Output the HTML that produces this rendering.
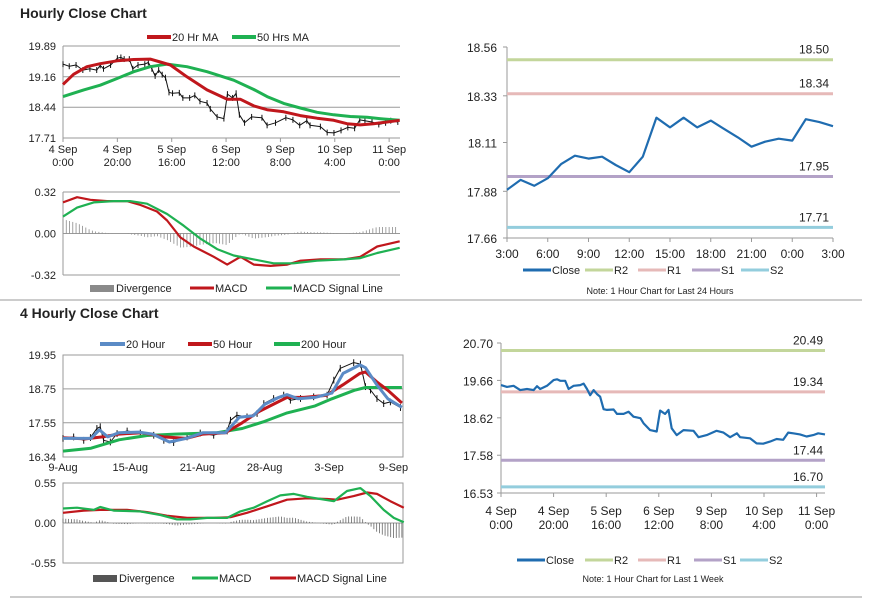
<!DOCTYPE html>
<html><head><meta charset="utf-8"><style>
body{margin:0;background:#fff;}
svg{display:block;font-family:"Liberation Sans",sans-serif;}
text{fill:#222;}
</style></head><body>
<svg id="s" width="873" height="601" viewBox="0 0 873 601">
<text x="20" y="18" font-size="14" font-weight="bold">Hourly Close Chart</text>
<text x="20" y="318" font-size="14" font-weight="bold">4 Hourly Close Chart</text>
<line x1="0" y1="300" x2="862" y2="300" stroke="#999" stroke-width="1"/>
<line x1="10" y1="597" x2="862" y2="597" stroke="#999" stroke-width="1"/>
</svg>
<script>
// ---------- DATA ----------
const hClose = [19.53,19.48,19.51,19.39,19.42,19.39,19.50,19.42,19.51,19.67,19.69,19.65,19.65,19.42,19.51,19.53,19.57,19.42,19.25,19.39,19.28,19.21,18.86,18.84,18.85,18.73,18.73,18.79,18.65,18.61,18.47,18.28,18.24,18.82,18.73,18.84,18.33,18.14,18.28,18.26,18.08,18.14,18.26,18.21,18.08,18.19,18.08,18.05,17.91,17.90,17.96,18.03,18.01,18.21,18.19,18.16,18.10,18.14,18.19,18.16];
const hHours = [0,2.3,4.8,7.3,9.9,12.4,13.7,14.9,17.5,20,21.3,22.5,24.4,25.7,27.6,30.1,31.4,32.7,33.9,35.2,36.5,37.7,39,40.3,42.8,44.1,46.6,48.5,50.4,53,54.2,56.7,59.2,60.5,62.4,63.7,64.9,66.8,69.4,73.2,75.1,78.2,82,84.6,87.1,89.7,90.9,94.7,97.2,99.7,102.3,104.8,107.3,109.2,111.1,113.7,116.2,118.7,120.6,123.2];
const ma20Hours = [0,3.9,8.8,13.7,19.9,26,32.1,35.8,39.5,45.6,53,60.4,65.2,70.2,75.1,81.2,87.3,93.5,99.6,104.5,109.4,114.3,119.2,123.9];
const ma20Vals = [18.98,19.22,19.40,19.47,19.54,19.57,19.58,19.51,19.44,19.16,18.85,18.63,18.63,18.47,18.38,18.33,18.24,18.18,18.13,18.05,18.02,18.05,18.09,18.13];
const ma50Hours = [0,7.6,13.7,19.9,26,32.1,38.3,45.6,53,62.8,70.2,75.1,81.2,87.3,93.5,99.6,105.7,111.9,118,123.9];
const ma50Vals = [18.69,18.85,18.96,19.12,19.28,19.40,19.46,19.40,19.28,19.08,18.86,18.69,18.53,18.42,18.32,18.26,18.22,18.20,18.16,18.13];
const hTickLabels = [["4 Sep","0:00"],["4 Sep","20:00"],["5 Sep","16:00"],["6 Sep","12:00"],["9 Sep","8:00"],["10 Sep","4:00"],["11 Sep","0:00"]];
const hTickHours = [0,20,40,60,80,100,120];
const hYTicks = [17.71,18.44,19.16,19.89];
const hMacdHours = [0,5.2,10.1,16.2,23.6,28.5,34.6,38.3,43.2,48.1,55.5,60.4,65.3,70.2,76.3,82.5,87.4,94.7,103.3,109.4,115.6,123.9];
const hMacdVals = [0.24,0.28,0.26,0.25,0.25,0.22,0.17,0.10,-0.03,-0.10,-0.18,-0.24,-0.18,-0.24,-0.25,-0.24,-0.21,-0.20,-0.20,-0.18,-0.10,-0.06];
const hSigHours = [0,5.2,11.3,18.6,24.7,30.9,38.3,44.4,50.6,56.7,62.8,70.2,77.5,84.9,93.5,103.3,109.4,115.6,123.9];
const hSigVals = [0.13,0.20,0.24,0.25,0.25,0.23,0.15,0.06,-0.04,-0.12,-0.17,-0.20,-0.23,-0.23,-0.21,-0.20,-0.19,-0.15,-0.11];
const hMacdTicks = [-0.32,0.00,0.32];
const qIdx = [0,3.8,7.4,9.8,12.1,13.3,14.5,16.9,19.3,22.9,27.6,32.4,36,39.5,44.3,49,53.8,58.6,59.8,62.1,65.7,69.3,71.7,75.2,78.8,81.2,84.8,89.5,94.3,96.7,99,103.8,106.2,108,109.8,112.1,114.5,116.9,120.5];
const qClose = [17.0,17.05,16.93,17.03,17.35,17.41,16.93,16.87,17.17,17.26,17.19,17.11,16.93,16.85,17.05,17.19,17.11,17.26,17.64,17.82,17.76,17.88,18.23,18.41,18.53,18.35,18.41,18.47,18.53,19.06,19.48,19.68,19.63,18.83,18.71,18.41,18.23,18.29,18.09];
const q20Idx = [0,10,13,16,20,27,32,38,44,50,58,63,68,72,77,80,84,90,96,100,106,108,112,116,121];
const q20Vals = [17.0,17.0,17.3,17.05,17.2,17.22,17.15,16.87,17.0,17.2,17.2,17.75,17.8,18.2,18.45,18.55,18.4,18.45,18.6,19.3,19.6,19.5,18.9,18.4,18.1];
const q50Idx = [0,8,14,20,28,36,44,50,58,64,70,76,80,86,94,100,106,108,112,116,121];
const q50Vals = [17.02,16.98,17.05,17.15,17.2,17.05,17.0,17.15,17.2,17.55,17.95,18.25,18.45,18.45,18.52,18.9,19.3,19.35,19.0,18.7,18.25];
const q200Idx = [0,10,20,30,40,55,64,72,80,90,96,104,108,121];
const q200Vals = [16.55,16.65,16.95,17.1,17.15,17.2,17.35,17.6,17.9,18.15,18.4,18.7,18.8,18.8];
const qTickLabels = ["9-Aug","15-Aug","21-Aug","28-Aug","3-Sep","9-Sep"];
const qTickIdx = [0,24,48,72,95,118];
const qYTicks = [16.34,17.55,18.75,19.95];
const qMacdIdx = [0,5,11,13.3,18.1,27.6,34.8,40.7,45.5,51.4,58.6,63.3,68.1,72.9,77.6,82.4,87.1,91.9,96.7,101.4,106.2,109.8,114.5,118.1,121.7];
const qMacdVals = [0.20,0.21,0.18,0.22,0.17,0.16,0.11,0.05,0.05,0.07,0.07,0.16,0.21,0.30,0.38,0.40,0.36,0.33,0.30,0.44,0.48,0.37,0.18,0.07,0.01];
const qSigIdx = [0,7.4,13.3,22.9,30,37.1,44.3,53.8,59.8,65.7,72.9,80,87.1,94.3,97.9,103.8,108.6,112.1,116.9,121.7];
const qSigVals = [0.14,0.17,0.18,0.18,0.15,0.10,0.07,0.07,0.08,0.14,0.23,0.32,0.34,0.33,0.32,0.37,0.42,0.40,0.30,0.21];
const qMacdTicks = [-0.55,0.00,0.55];
const dayHours = [0,1,2,3,4,5,6,7,8,9,10,11,12,13,14,15,16,17,18,19,20,21,22,23,24];
const dayClose = [17.887,17.934,17.906,17.942,18.009,18.048,18.034,18.043,18.004,17.970,18.043,18.227,18.181,18.227,18.181,18.213,18.173,18.134,18.090,18.114,18.128,18.119,18.220,18.206,18.187];
const dayTickLabels = ["3:00","6:00","9:00","12:00","15:00","18:00","21:00","0:00","3:00"];
const dayYTicks = [17.66,17.88,18.11,18.33,18.56];
const dayLevels = [18.50,18.34,17.95,17.71];
const wkHours = hHours;
const wkClose = hClose;
const wkTickLabels = hTickLabels;
const wkYTicks = [16.53,17.58,18.62,19.66,20.70];
const wkLevels = [20.49,19.34,17.44,16.70];
const levelNames = ["R2","R1","S1","S2"];

// ---------- RENDER ----------
const NS="http://www.w3.org/2000/svg";
const S=document.getElementById('s');
function mk(tag,attrs){const e=document.createElementNS(NS,tag);for(const k in attrs)e.setAttribute(k,attrs[k]);S.appendChild(e);return e;}
function lin(d0,d1,r0,r1){return v=>r0+(v-d0)/(d1-d0)*(r1-r0);}
function txt(x,y,s,anchor,size){const t=mk('text',{x:x,y:y,'font-size':size||11,'text-anchor':anchor||'start'});t.textContent=s;return t;}
function path(xs,ys,X,Y,color,w){let d='';for(let i=0;i<xs.length;i++)d+=(i?'L':'M')+X(xs[i]).toFixed(1)+','+Y(ys[i]).toFixed(1);return mk('path',{d:d,fill:'none',stroke:color,'stroke-width':w,'stroke-linejoin':'round'});}
function interp(xs,ys,x){if(x<=xs[0])return ys[0];for(let i=1;i<xs.length;i++){if(x<=xs[i]){const t=(x-xs[i-1])/(xs[i]-xs[i-1]);return ys[i-1]+t*(ys[i]-ys[i-1]);}}return ys[ys.length-1];}
function legLine(x,y,w,color,label,thick){const l=mk('line',{x1:x,y1:y,x2:x+w,y2:y,stroke:color,'stroke-width':thick||4});const t=txt(x+w+1,y+4,label,'start',11);}
function legBox(x,y,w,color,label){const r=mk('rect',{x:x,y:y-3,width:w,height:7,fill:color});const t=txt(x+w+2,y+4,label,'start',11);}
const RED="#c0171c",GREEN="#1fb152",GRID="#9a9a9a";

{
const X=lin(0,124,63,400),Y=lin(17.71,19.89,138,46);
hYTicks.forEach(v=>{const g=mk('line',{x1:63,y1:Y(v),x2:400,y2:Y(v),stroke:GRID,'stroke-width':1});const t=txt(56,Y(v)+4,v.toFixed(2),'end',11);});
const ax=mk('line',{x1:63,y1:46,x2:63,y2:138,stroke:GRID});
hTickHours.forEach((h,i)=>{const tk=mk('line',{x1:X(h),y1:138,x2:X(h),y2:142,stroke:GRID});const a=txt(X(h),153,hTickLabels[i][0],'middle',11);const b=txt(X(h),166,hTickLabels[i][1],'middle',11);});
const c=path(hHours,hClose.map(v=>v-0.07),X,Y,'#111',1);
hHours.forEach((h,i)=>{const b=mk('line',{x1:X(h),y1:Y(hClose[i]+0.0),x2:X(h),y2:Y(hClose[i]-0.14),stroke:'#111','stroke-width':1});});
const g=path(ma50Hours,ma50Vals,X,Y,GREEN,3);
const r=path(ma20Hours,ma20Vals,X,Y,RED,3);
legLine(147,37,24,RED,'20 Hr MA');legLine(232,37,24,GREEN,'50 Hrs MA');
}
{
const X=lin(0,124,63,400),Y=lin(-0.32,0.32,275,192);
hMacdTicks.forEach(v=>{const g=mk('line',{x1:63,y1:Y(v),x2:400,y2:Y(v),stroke:GRID});const t=txt(56,Y(v)+4,v.toFixed(2),'end',11);});
const ax=mk('line',{x1:63,y1:192,x2:63,y2:275,stroke:GRID});
for(let h=0;h<=123;h+=1.2){const d=interp(hMacdHours,hMacdVals,h)-interp(hSigHours,hSigVals,h);const b=mk('line',{x1:X(h),y1:Y(0),x2:X(h),y2:Y(d),stroke:'#8a8a8a','stroke-width':0.8});}
const r=path(hMacdHours,hMacdVals,X,Y,RED,2.2);
const g=path(hSigHours,hSigVals,X,Y,GREEN,2.2);
legBox(90,288,24,'#8a8a8a','Divergence');legLine(190,288,24,RED,'MACD',3);legLine(266,288,26,GREEN,'MACD Signal Line',3);
}
{
const X=lin(0,121.4,63,403),Y=lin(16.34,19.95,457,355);
qYTicks.forEach(v=>{const g=mk('line',{x1:63,y1:Y(v),x2:403,y2:Y(v),stroke:GRID});const t=txt(56,Y(v)+4,v.toFixed(2),'end',11);});
const ax=mk('rect',{x:63,y:355,width:340,height:102,fill:'none',stroke:GRID});
qTickIdx.forEach((v,i)=>{const t=txt(X(v),471,qTickLabels[i],'middle',11);});
qIdx.forEach((v,i)=>{const b=mk('line',{x1:X(v),y1:Y(qClose[i]+0.12),x2:X(v),y2:Y(qClose[i]-0.12),stroke:'#111','stroke-width':1});});
const c=path(qIdx,qClose,X,Y,'#111',1);
const g=path(q200Idx,q200Vals,X,Y,GREEN,3);
const r=path(q50Idx,q50Vals,X,Y,RED,3);
const b=path(q20Idx,q20Vals,X,Y,'#5b8bc6',3);
legLine(100,344,25,'#5b8bc6','20 Hour');legLine(188,344,24,RED,'50 Hour');legLine(274,344,26,GREEN,'200 Hour');
}
{
const X=lin(0,121.4,63,403),Y=lin(-0.55,0.55,563,483);
qMacdTicks.forEach(v=>{const g=mk('line',{x1:63,y1:Y(v),x2:403,y2:Y(v),stroke:GRID});const t=txt(56,Y(v)+4,v.toFixed(2),'end',11);});
const ax=mk('rect',{x:63,y:483,width:340,height:80,fill:'none',stroke:GRID});
for(let i=0;i<=121;i+=1){const d=interp(qMacdIdx,qMacdVals,i)-interp(qSigIdx,qSigVals,i);const b=mk('line',{x1:X(i),y1:Y(0),x2:X(i),y2:Y(d),stroke:'#666','stroke-width':0.8});}
const r=path(qSigIdx,qSigVals,X,Y,RED,2.2);
const g=path(qMacdIdx,qMacdVals,X,Y,GREEN,2.2);
legBox(93,578,24,'#555','Divergence');legLine(192,578,26,GREEN,'MACD',3);legLine(270,578,26,RED,'MACD Signal Line',3);
}
const LVC=["#c3d69b","#e6b9b8","#b3a2c7","#93cddd"];
function levelChart(pref,xs,ys,x0,x1,xd0,xd1,y0,y1,ticks,levels,labX,lvlLabX,drawX,legY,legXs,note,noteY){
 const X=lin(xd0,xd1,x0,x1),Y=lin(ticks[0],ticks[ticks.length-1],y1,y0);
 const ax=mk('line',{x1:x0,y1:y0,x2:x0,y2:y1,stroke:GRID});
 const bx=mk('line',{x1:x0,y1:y1,x2:x1,y2:y1,stroke:GRID});
 ticks.forEach(v=>{const tk=mk('line',{x1:x0-4,y1:Y(v),x2:x0,y2:Y(v),stroke:GRID});const t=txt(labX,Y(v)+5,v.toFixed(2),'end',12);});
 levels.forEach((v,i)=>{const l=mk('line',{x1:x0,y1:Y(v),x2:x1,y2:Y(v),stroke:LVC[i],'stroke-width':3});const t=txt(lvlLabX,Y(v)-6,v.toFixed(2),'end',12);});
 drawX(X);
 const c=path(xs,ys,X,Y,'#1f6cb0',2.2);
 legLine(legXs[0],legY,28,'#1f6cb0','Close',3);
 levelNames.forEach((n,i)=>{legLine(legXs[i+1],legY,28,LVC[i],n,3);});
 const nt=txt((x0+x1)/2-10,noteY,note,'middle',9);
}
levelChart('day',dayHours,dayClose,507,833,0,24,47,238,dayYTicks,dayLevels,497,829,X=>{
 dayTickLabels.forEach((s,i)=>{const h=i*3;const tk=mk('line',{x1:X(h),y1:238,x2:X(h),y2:242,stroke:GRID});const t=txt(X(h),258,s,'middle',12);});
},270,[523,585,638,692,741],'Note: 1 Hour Chart for Last 24 Hours',294);
levelChart('week',wkHours,wkClose,501,825,0,123.2,343,493,wkYTicks,wkLevels,493,823,X=>{
 hTickHours.forEach((h,i)=>{const tk=mk('line',{x1:X(h),y1:493,x2:X(h),y2:497,stroke:GRID});const a=txt(X(h),515,wkTickLabels[i][0],'middle',12);const b=txt(X(h),529,wkTickLabels[i][1],'middle',12);});
},560,[517,585,638,694,740],'Note: 1 Hour Chart for Last 1 Week',582);
</script>
</body></html>
